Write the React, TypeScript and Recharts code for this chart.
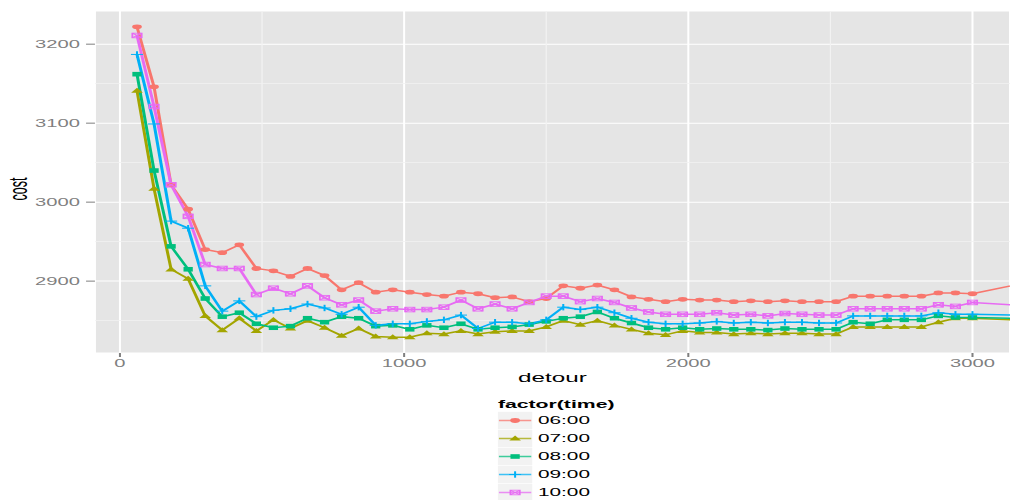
import React from 'react';
import { LineChart, Line, XAxis, YAxis, CartesianGrid, ReferenceLine } from 'recharts';

// detour values (x)
const detour = [
  60, 120, 180, 240, 300, 360, 420, 480, 540, 600,
  660, 720, 780, 840, 900, 960, 1020, 1080, 1140, 1200,
  1260, 1320, 1380, 1440, 1500, 1560, 1620, 1680, 1740, 1800,
  1860, 1920, 1980, 2040, 2100, 2160, 2220, 2280, 2340, 2400,
  2460, 2520, 2580, 2640, 2700, 2760, 2820, 2880, 2940, 3000,
  3600,
];

const cost0600 = [
  3222, 3146, 3022, 2991, 2940, 2936, 2946, 2916, 2913, 2906,
  2916, 2907, 2889, 2898, 2886, 2889, 2886, 2883, 2881, 2886,
  2884, 2879, 2880, 2874, 2878, 2894, 2891, 2895, 2889, 2880,
  2877, 2874, 2877, 2876, 2876, 2874, 2875, 2874, 2875, 2874,
  2874, 2874, 2881, 2881, 2881, 2881, 2881, 2885, 2885, 2884,
  2929,
];
const cost0700 = [
  3141, 3017, 2915, 2903, 2856, 2838, 2853, 2837, 2851, 2840,
  2850, 2841, 2831, 2840, 2830, 2829, 2829, 2834, 2833, 2837,
  2833, 2836, 2837, 2837, 2842, 2850, 2845, 2850, 2844, 2839,
  2834, 2832, 2837, 2835, 2835, 2833, 2834, 2833, 2834, 2834,
  2833, 2833, 2842, 2842, 2842, 2842, 2842, 2848, 2853, 2853,
  2844,
];
const cost0800 = [
  3162, 3040, 2944, 2915, 2878, 2855, 2860, 2846, 2841, 2843,
  2853, 2848, 2855, 2853, 2843, 2844, 2839, 2844, 2841, 2846,
  2839, 2841, 2842, 2845, 2849, 2853, 2855, 2861, 2853, 2847,
  2841, 2839, 2841, 2839, 2840, 2839, 2839, 2838, 2840, 2839,
  2839, 2839, 2848, 2846, 2851, 2851, 2851, 2856, 2854, 2854,
  2850,
];
const cost0900 = [
  3187, 3099, 2976, 2967, 2894, 2862, 2875, 2855, 2863, 2865,
  2871, 2866, 2858, 2867, 2844, 2846, 2846, 2849, 2851, 2857,
  2840, 2848, 2848, 2846, 2851, 2867, 2864, 2867, 2860, 2853,
  2848, 2846, 2846, 2847, 2849, 2847, 2848, 2847, 2848, 2848,
  2847, 2847, 2856, 2856, 2856, 2856, 2856, 2860, 2858, 2858,
  2854,
];
const cost1000 = [
  3211, 3121, 3022, 2982, 2921, 2916, 2916, 2883, 2891, 2884,
  2894, 2879, 2870, 2876, 2862, 2865, 2864, 2864, 2867, 2876,
  2865, 2871, 2865, 2873, 2881, 2881, 2874, 2878, 2873, 2866,
  2861, 2858, 2858, 2858, 2860, 2857, 2858, 2856, 2859, 2858,
  2857, 2857, 2865, 2865, 2865, 2865, 2865, 2870, 2868, 2873,
  2860,
];

const seriesNames = ['06:00', '07:00', '08:00', '09:00', '10:00'];
const seriesKeys = ['t0600', 't0700', 't0800', 't0900', 't1000'];
const seriesValues = [cost0600, cost0700, cost0800, cost0900, cost1000];
const seriesColors = ['#F8766D', '#A3A500', '#00BF7D', '#00B0F6', '#E76BF3'];
const seriesShapes = ['circle', 'triangle', 'square', 'plus', 'squarecross'];

const xTicks = [0, 1000, 2000, 3000];
const yTicks = [2900, 3000, 3100, 3200];
const xMinor = [500, 1500, 2500];
const yMinor = [2850, 2950, 3050, 3150];

const data = detour.map((d, i) => {
  const row: Record<string, number> = { detour: d };
  seriesKeys.forEach((k, j) => {
    row[k] = seriesValues[j][i];
  });
  return row;
});

const FONT = '"Liberation Sans", Arial, Helvetica, sans-serif';
const GREY = '#7F7F7F';

function Marker({ shape, color, cx, cy }: { shape: string; color: string; cx: number; cy: number }) {
  switch (shape) {
    case 'circle':
      return <circle cx={cx} cy={cy} r={2.4} fill={color} />;
    case 'triangle':
      return (
        <polygon
          points={`${cx},${cy - 2.9} ${cx - 2.9},${cy + 2.1} ${cx + 2.9},${cy + 2.1}`}
          fill={color}
        />
      );
    case 'square':
      return <rect x={cx - 2.3} y={cy - 2.3} width={4.6} height={4.6} fill={color} />;
    case 'plus':
      return (
        <g stroke={color} strokeWidth={1}>
          <line x1={cx - 3} y1={cy} x2={cx + 3} y2={cy} />
          <line x1={cx} y1={cy - 3.2} x2={cx} y2={cy + 3.2} />
        </g>
      );
    default:
      return (
        <g stroke={color} strokeWidth={0.9} fill="none">
          <rect x={cx - 2.3} y={cy - 2.3} width={4.6} height={4.6} />
          <line x1={cx - 2.3} y1={cy - 2.3} x2={cx + 2.3} y2={cy + 2.3} />
          <line x1={cx - 2.3} y1={cy + 2.3} x2={cx + 2.3} y2={cy - 2.3} />
        </g>
      );
  }
}

function makeDot(shape: string, color: string) {
  return (props: any) => {
    const { cx, cy, index } = props;
    if (cx == null || cy == null || isNaN(cx) || isNaN(cy)) return <g key={`e-${shape}-${index}`} />;
    return (
      <g key={`d-${shape}-${index}`}>
        <Marker shape={shape} color={color} cx={cx} cy={cy} />
      </g>
    );
  };
}

const renderCostLabel = (props: any) => {
  const vb = props.viewBox || { x: 0, y: 11, width: 47, height: 342 };
  const cx = vb.x + 13.6;
  const cy = vb.y + vb.height / 2 + 7;
  return (
    <text
      transform={`translate(${cx}, ${cy}) rotate(-90)`}
      textAnchor="middle"
      fontFamily={FONT}
      fontSize={12.5}
      fill="#000"
    >
      cost
    </text>
  );
};

function LegendBox() {
  const left = 246.5;
  const keyW = 17;
  const keyH = 17.3;
  const firstCenter = 420.5;
  const step = 18;
  return (
    <svg
      width={500}
      height={500}
      style={{ position: 'absolute', left: 0, top: 0, pointerEvents: 'none' }}
    >
      <text x={left} y={408} fontFamily={FONT} fontSize={10.5} fontWeight="bold" fill="#000">
        factor(time)
      </text>
      {seriesNames.map((name, i) => {
        const cy = firstCenter + step * i;
        return (
          <g key={name}>
            <rect x={left} y={cy - keyH / 2} width={keyW} height={keyH} fill="#F2F2F2" />
            <line
              x1={left + 0.5}
              x2={left + keyW - 0.5}
              y1={cy}
              y2={cy}
              stroke={seriesColors[i]}
              strokeWidth={1.4}
              strokeOpacity={0.75}
            />
            <Marker shape={seriesShapes[i]} color={seriesColors[i]} cx={left + keyW / 2} cy={cy} />
            <text x={266.3} y={cy + 4} fontFamily={FONT} fontSize={10.3} fill="#000">
              {name}
            </text>
          </g>
        );
      })}
    </svg>
  );
}

export default function App() {
  return (
    <div
      style={{
        position: 'absolute',
        left: 0,
        top: 0,
        width: 500,
        height: 500,
        background: '#fff',
        transform: 'scaleX(2.02)',
        transformOrigin: '0 0',
        overflow: 'hidden',
      }}
    >
      <LineChart
        width={500}
        height={500}
        data={data}
        margin={{ top: 11, right: 0, bottom: 117, left: 0 }}
      >
        <CartesianGrid stroke="#FFFFFF" strokeWidth={1} fill="#E5E5E5" fillOpacity={1} />
        {yMinor.map((v) => (
          <ReferenceLine key={`ym${v}`} y={v} stroke="#F2F2F2" strokeWidth={0.6} />
        ))}
        {xMinor.map((v) => (
          <ReferenceLine key={`xm${v}`} x={v} stroke="#F2F2F2" strokeWidth={0.6} />
        ))}
        <XAxis
          type="number"
          dataKey="detour"
          domain={[-88, 3132]}
          allowDataOverflow
          ticks={xTicks}
          interval={0}
          axisLine={false}
          tickLine={{ stroke: GREY, strokeWidth: 1 }}
          tickSize={4}
          tickMargin={3}
          height={30}
          tick={{ fill: GREY, fontSize: 10, fontFamily: FONT }}
          label={{
            value: 'detour',
            position: 'insideBottom',
            offset: 1,
            fill: '#000',
            fontSize: 12,
            fontFamily: FONT,
          }}
        />
        <YAxis
          type="number"
          domain={[2809, 3242]}
          allowDataOverflow
          ticks={yTicks}
          interval={0}
          axisLine={false}
          tickLine={{ stroke: GREY, strokeWidth: 1 }}
          tickSize={4.4}
          tickMargin={3}
          width={47}
          tick={{ fill: GREY, fontSize: 10, fontFamily: FONT }}
          label={renderCostLabel}
        />
        {seriesKeys.map((k, i) => (
          <Line
            key={k}
            type="linear"
            dataKey={k}
            name={seriesNames[i]}
            stroke={seriesColors[i]}
            strokeWidth={1.5}
            dot={makeDot(seriesShapes[i], seriesColors[i])}
            activeDot={false}
            isAnimationActive={false}
          />
        ))}
      </LineChart>
      <LegendBox />
    </div>
  );
}
